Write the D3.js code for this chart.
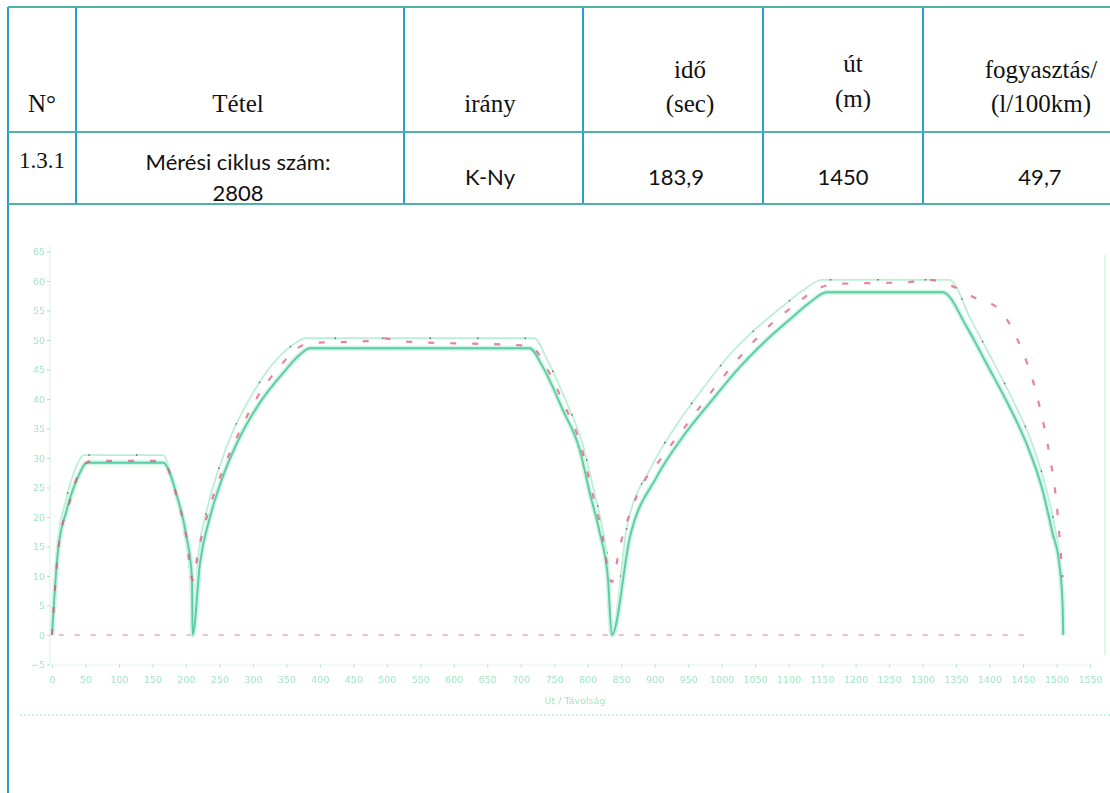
<!DOCTYPE html>
<html>
<head>
<meta charset="utf-8">
<script src="https://cdn.jsdelivr.net/npm/d3@7/dist/d3.min.js"></script>
<style>
  html, body { margin: 0; padding: 0; background: #fff; }
  svg { display: block; }
</style>
</head>
<body>
<svg id="page" width="1110" height="793"></svg>
<script>
// ---- table content ----
const headerLabels = [["N°"], ["Tétel"], ["irány"], ["idő", "(sec)"], ["út", "(m)"], ["fogyasztás/", "(l/100km)"]];
const rowLabels = [["1.3.1"], ["Mérési ciklus szám:", "2808"], ["K-Ny"], ["183,9"], ["1450"], ["49,7"]];

// ---- speed profile data (distance in m, speed in km/h) ----
const mainDist  = [0, 9, 22, 39, 52, 166, 187, 201, 209, 210,
                   221, 236, 255, 276, 310, 345, 370, 385,
                   713, 733, 763, 788, 803, 818, 830, 836,
                   863, 903, 942, 982, 1027, 1067, 1106, 1131, 1157,
                   1330, 1366, 1395, 1430, 1455, 1479, 1494, 1504, 1509, 1510];
const mainSpeed = [0, 14.4, 21.2, 26.8, 29.2, 29.2, 23.4, 16.6, 9.8, 0,
                   12.2, 20, 26.8, 32.5, 39.3, 44.4, 47.5, 48.6,
                   48.6, 45.4, 38.1, 31.4, 24.1, 17.3, 9.8, 0,
                   16.6, 26.8, 33.6, 39.3, 45.4, 50, 53.9, 56.3, 58.1,
                   58.1, 52.2, 46.1, 38.6, 32.5, 24.6, 17.3, 12.2, 5.4, 0];

const upperDist  = [0, 8, 20, 36, 47, 166, 180, 196, 206, 210,
                    218, 232, 250, 270, 300, 330, 360, 378, 720, 740,
                    768, 792, 808, 822, 832, 836, 858, 895, 932, 970,
                    1012, 1052, 1092, 1120, 1150, 1340, 1372, 1400, 1434, 1460,
                    1483, 1498, 1506, 1510];
const upperSpeed = [0, 15.5, 22.5, 28.5, 30.5, 30.5, 26, 18, 10, 0,
                    13, 21.5, 28.5, 34.5, 41, 46, 49.2, 50.3, 50.3, 46.5,
                    39.5, 32.5, 25, 18, 10, 0, 18, 28.5, 35.5, 41.5,
                    47.5, 52, 55.8, 58.3, 60.2, 60.2, 53.5, 47.5, 40, 33.5,
                    25.5, 18, 12, 0];

const redDist  = [0, 10, 25, 45, 60, 165, 185, 200, 210, 218, 235, 255, 278, 305, 340, 372, 390,
                  470, 494, 520, 715, 735, 765, 790, 805, 820, 836, 848, 875, 910, 950, 990,
                  1030, 1072, 1110, 1140, 1170, 1280, 1310, 1336, 1385, 1410, 1440, 1475, 1490, 1500, 1509];
const redSpeed = [0, 15, 22, 28.5, 29.5, 29.5, 24, 17, 9.3, 14, 21.5, 28, 34, 40, 45.5, 49, 49.5,
                  49.8, 50.3, 49.8, 49, 46, 39, 32, 25, 18, 9, 15, 24, 30, 36, 42,
                  47.5, 52.5, 56, 58.5, 59.5, 59.8, 60.2, 59.5, 56.8, 55.6, 50.5, 38.6, 30.2, 22.4, 9.8];

const zeroDist  = [10, 1460];
const zeroSpeed = [0, 0];

const yTicks = [-5, 0, 5, 10, 15, 20, 25, 30, 35, 40, 45, 50, 55, 60, 65];
const xTicks = d3.range(0, 1551, 50);
const xTitle = "Út / Távolság";

const svg = d3.select("#page");
svg.append("rect").attr("width", 1110).attr("height", 793).attr("fill", "#fff");

// ---- table grid ----
const colX = [8, 76, 404, 583, 763, 923];
const rowY = [7, 132, 204];
const vColor = "#2a9fcf", hColor = "#4db3a8";
const grid = svg.append("g");
colX.forEach((x, i) => {
  grid.append("line").attr("x1", x).attr("x2", x)
    .attr("y1", rowY[0]).attr("y2", i === 0 ? 793 : rowY[2])
    .attr("stroke", vColor).attr("stroke-width", 2);
});
rowY.forEach(y => {
  grid.append("line").attr("x1", colX[0]).attr("x2", 1110)
    .attr("y1", y).attr("y2", y)
    .attr("stroke", hColor).attr("stroke-width", 2);
});

const headX = [42, 238, 490, 690, 853, 1041];
const headY = { 1: [112], 2: [78, 112] };
const serif = "'Liberation Serif', 'Times New Roman', serif";
const sans = "Lato, 'Open Sans', sans-serif";
const texts = svg.append("g").attr("fill", "#111");
headerLabels.forEach((lines, i) => {
  const ys = i === 4 ? [72, 107] : headY[lines.length];
  lines.forEach((t, j) => {
    texts.append("text").attr("x", headX[i]).attr("y", ys[j])
      .attr("text-anchor", "middle").attr("font-family", serif)
      .attr("font-size", 25).text(t);
  });
});
const rowX = [42, 238, 490, 676, 843, 1040];
rowLabels.forEach((lines, i) => {
  const ys = lines.length === 2 ? [170, 201] : (i === 0 ? [168] : [185]);
  lines.forEach((t, j) => {
    texts.append("text").attr("x", rowX[i]).attr("y", ys[j])
      .attr("text-anchor", "middle").attr("font-family", i === 0 ? serif : sans)
      .attr("font-size", i === 0 ? 23 : 22).text(t);
  });
});

// ---- speed chart ----
const defs = svg.append("defs");
defs.append("filter").attr("id", "soft")
  .append("feGaussianBlur").attr("stdDeviation", 0.6);

const x = d3.scaleLinear().domain([0, 1550]).range([52, 1090]);
const y = d3.scaleLinear().domain([-5, 65]).range([664.5, 251.5]);

const chart = svg.append("g").attr("filter", "url(#soft)");
const pale = "#a3e6c4";

// frame lines
chart.append("line").attr("x1", 50).attr("x2", 50).attr("y1", 245).attr("y2", 666)
  .attr("stroke", "#d4f3e2").attr("stroke-width", 1);
chart.append("line").attr("x1", 1105).attr("x2", 1105).attr("y1", 255).attr("y2", 655)
  .attr("stroke", "#d4f3e2").attr("stroke-width", 1.5);
chart.append("line").attr("x1", 20).attr("x2", 1110).attr("y1", 715).attr("y2", 715)
  .attr("stroke", "#bfeed6").attr("stroke-width", 1.5).attr("stroke-dasharray", "2 2");

// axes
const yAxis = d3.axisLeft(y).tickValues(yTicks).tickSize(3).tickPadding(2).tickFormat(d3.format("d"));
const yg = chart.append("g").attr("transform", "translate(50,0)").call(yAxis);
yg.select(".domain").remove();
yg.selectAll("line").attr("stroke", pale);
yg.selectAll("text").attr("fill", pale).attr("font-size", 9.5).attr("font-family", "DejaVu Sans, sans-serif");

const xAxis = d3.axisBottom(x).tickValues(xTicks).tickSize(3).tickPadding(9).tickFormat(d3.format("d"));
const xg = chart.append("g").attr("transform", "translate(0,664.5)").call(xAxis);
xg.select(".domain").attr("stroke", "#e3f7ec");
xg.selectAll("line").attr("stroke", pale);
xg.selectAll("text").attr("fill", pale).attr("font-size", 9.5).attr("font-family", "DejaVu Sans, sans-serif");

chart.append("text").attr("x", 575).attr("y", 704).attr("text-anchor", "middle")
  .attr("fill", pale).attr("font-size", 9.5).attr("font-family", "DejaVu Sans, sans-serif").text(xTitle);

const line = d3.line().x(d => x(d[0])).y(d => y(d[1])).curve(d3.curveMonotoneX);
const zip = (a, b) => a.map((v, i) => [v, b[i]]);

// zero reference
chart.append("path").attr("d", line(zip(zeroDist, zeroSpeed)))
  .attr("fill", "none").attr("stroke", "#d88a8a").attr("stroke-width", 1.3)
  .attr("stroke-dasharray", "5 11").attr("opacity", 0.7);

// upper (faster) run
chart.append("path").attr("d", line(zip(upperDist, upperSpeed)))
  .attr("fill", "none").attr("stroke", "#bdeed6").attr("stroke-width", 1.8);
chart.append("path").attr("d", line(zip(upperDist, upperSpeed)))
  .attr("fill", "none").attr("stroke", "#333").attr("stroke-width", 1.4)
  .attr("stroke-dasharray", "1.5 46").attr("opacity", 0.7);

// main run: halo + core
chart.append("path").attr("d", line(zip(mainDist, mainSpeed)))
  .attr("fill", "none").attr("stroke", "#d0f4e2").attr("stroke-width", 5);
chart.append("path").attr("d", line(zip(mainDist, mainSpeed)))
  .attr("fill", "none").attr("stroke", "#5ccba7").attr("stroke-width", 1.9);

// red run
chart.append("path").attr("d", line(zip(redDist, redSpeed)))
  .attr("fill", "none").attr("stroke", "#e25a77").attr("stroke-width", 2.2)
  .attr("stroke-dasharray", "6 16").attr("opacity", 0.75);
</script>
</body>
</html>
